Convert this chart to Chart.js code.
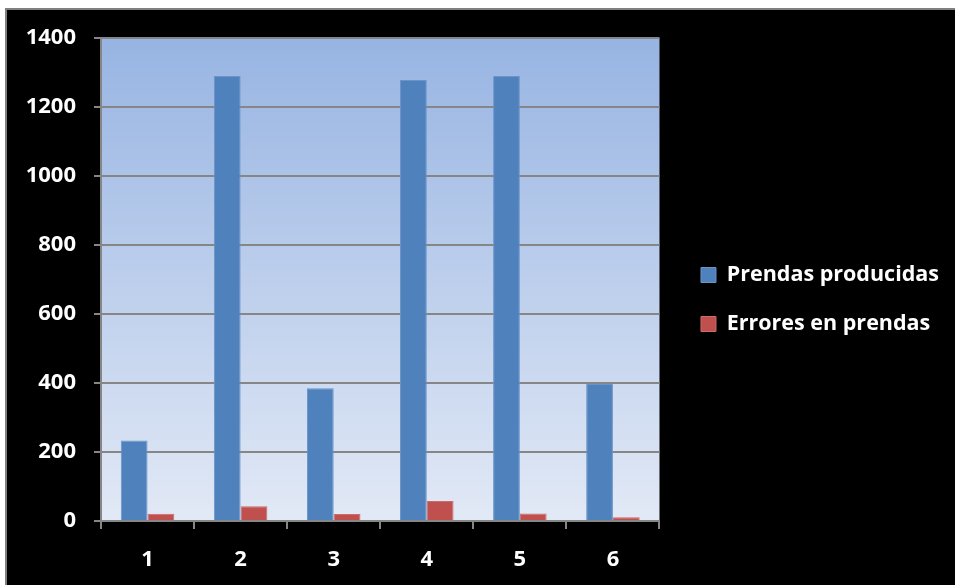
<!DOCTYPE html>
<html><head><meta charset="utf-8">
<script src="https://cdn.jsdelivr.net/npm/chart.js@4"></script>
<style>
html,body{margin:0;padding:0;background:#fff;width:955px;height:585px;overflow:hidden}
#frame{position:absolute;left:5px;top:8px;right:0;bottom:0;background:#000;border-left:2px solid #808080;border-top:2px solid #808080}
#wrap{position:absolute;left:0;top:0;width:955px;height:585px}
</style></head><body>
<div id="frame"></div>
<div id="wrap"><canvas id="c" width="955" height="585"></canvas></div>
<script>
const categories = ['1', '2', '3', '4', '5', '6'];
const seriesNames = ['Prendas producidas', 'Errores en prendas'];
const producidas = [233, 1290, 385, 1278, 1290, 397];
const errores = [21, 43, 20, 58, 22, 11];
const yTickValues = [0, 200, 400, 600, 800, 1000, 1200, 1400];

const FONT = "'Open Sans', 'DejaVu Sans', sans-serif";
const GRID = '#868686';

const bgPlugin = {
  id: 'plotBg',
  beforeDraw(chart) {
    const a = chart.chartArea, ctx = chart.ctx;
    const g = ctx.createLinearGradient(0, a.top, 0, a.bottom);
    g.addColorStop(0, '#97b4e2');
    g.addColorStop(1, '#e2e9f6');
    ctx.save();
    ctx.fillStyle = g;
    ctx.fillRect(a.left, a.top, a.right - a.left, a.bottom - a.top);
    ctx.restore();
  }
};

new Chart(document.getElementById('c'), {
  type: 'bar',
  data: {
    labels: categories,
    datasets: [
      { label: seriesNames[0], data: producidas, backgroundColor: '#4f81bd', borderColor: '#6a94c8', borderWidth: 1, yAxisID: 'y' },
      { label: seriesNames[1], data: errores, backgroundColor: '#c0504d', borderColor: '#cc6b68', borderWidth: 1, yAxisID: 'y' }
    ]
  },
  options: {
    responsive: false,
    animation: false,
    devicePixelRatio: 1,
    layout: { padding: { top: 14, left: 0, right: 6, bottom: 0 } },
    datasets: { bar: { categoryPercentage: 0.575, barPercentage: 1.0 } },
    plugins: {
      title: { display: true, text: ' ', fullSize: false, font: { size: 10 }, padding: { top: 12, bottom: 0 } },
      tooltip: { enabled: false },
      legend: {
        position: 'right',
        align: 'center',
        maxWidth: 500,
        labels: {
          boxWidth: 15, boxHeight: 15, padding: 27.5,
          color: '#ffffff',
          font: { family: FONT, size: 21.5, weight: 'bold' }
        }
      }
    },
    scales: {
      x: {
        grid: { display: true, drawOnChartArea: false, drawTicks: true, tickLength: 8, color: GRID, lineWidth: 2, offset: true },
        border: { display: true, color: GRID, width: 2 },
        ticks: { color: '#ffffff', padding: 18, font: { family: FONT, size: 22, weight: 'bold' }, maxRotation: 0 },
        afterFit(s) { s.height = 64; }
      },
      y: {
        min: 0, max: 1400,
        grid: { color: GRID, lineWidth: 2, tickLength: 7 },
        border: { display: true, color: GRID, width: 2 },
        ticks: { color: '#ffffff', padding: 18, font: { family: FONT, size: 22, weight: 'bold' }, callback: v => String(v) },
        afterBuildTicks(s) { s.ticks = yTickValues.map(v => ({ value: v })); },
        afterFit(s) { s.width = 101; }
      },
      yR: {
        position: 'right', display: true,
        grid: { display: false, drawTicks: false },
        border: { display: false },
        ticks: { display: false },
        afterFit(s) { s.width = 14; }
      }
    }
  },
  plugins: [bgPlugin]
});
</script>
</body></html>
